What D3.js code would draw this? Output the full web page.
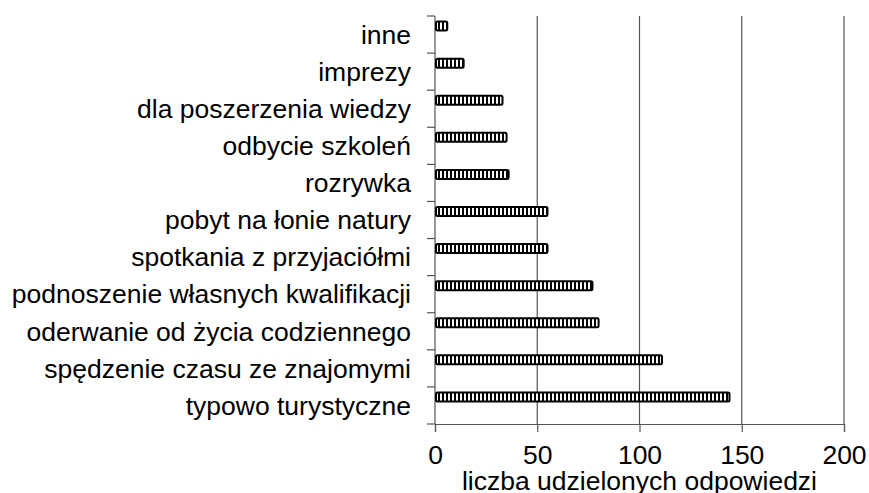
<!DOCTYPE html>
<html>
<head>
<meta charset="utf-8">
<script src="https://cdn.jsdelivr.net/npm/d3@7"></script>
<style>
body { margin: 0; background: #fff; }
text { font-family: "Liberation Sans", Arial, sans-serif; fill: #000; }
</style>
</head>
<body>
<div id="chart"></div>
<script>
// categories from top to bottom
var categories = ["inne", "imprezy", "dla poszerzenia wiedzy", "odbycie szkoleń", "rozrywka",
    "pobyt na łonie natury", "spotkania z przyjaciółmi", "podnoszenie własnych kwalifikacji",
    "oderwanie od życia codziennego", "spędzenie czasu ze znajomymi", "typowo turystyczne"];
var values = [6, 14, 33, 35, 36, 55, 55, 77, 80, 111, 144];
var xTicks = [0, 50, 100, 150, 200];
var xTitle = "liczba udzielonych odpowiedzi";

var margin = {top: 16, right: 25, bottom: 69, left: 435};
var width = 869 - margin.left - margin.right;
var height = 493 - margin.top - margin.bottom;
var fs = "26.5px";

var svg = d3.select("#chart").append("svg")
    .attr("width", 869)
    .attr("height", 493);

var defs = svg.append("defs");
var pat = defs.append("pattern")
    .attr("id", "stripes")
    .attr("patternUnits", "userSpaceOnUse")
    .attr("width", 4)
    .attr("height", 10);
pat.append("rect").attr("width", 4).attr("height", 10).attr("fill", "#000");
pat.append("rect").attr("x", 1).attr("width", 2).attr("height", 10).attr("fill", "#fff");

var g = svg.append("g")
    .attr("transform", "translate(" + margin.left + "," + margin.top + ")");

var x = d3.scaleLinear().domain([0, 200]).range([0, width]);
var y = d3.scaleBand().domain(categories).range([0, height]);

// gridlines
g.selectAll(".grid")
    .data(xTicks.slice(1))
    .enter().append("line")
    .attr("class", "grid")
    .attr("x1", function(d) { return x(d); })
    .attr("x2", function(d) { return x(d); })
    .attr("y1", 0)
    .attr("y2", height)
    .attr("stroke", "#555")
    .attr("stroke-width", 1.2);

// x axis
var xAxis = d3.axisBottom(x).tickValues(xTicks).tickSize(8).tickPadding(13);
var xg = g.append("g")
    .attr("transform", "translate(0," + height + ")")
    .call(xAxis);
xg.select(".domain").attr("stroke", "#555").attr("stroke-width", 1.2);
xg.selectAll(".tick line").attr("stroke", "#555").attr("stroke-width", 1.2);
xg.selectAll("text").style("font-size", fs).attr("fill", "#000");

// y axis: ticks on category boundaries
var yg = g.append("g");
yg.append("line")
    .attr("x1", 0).attr("x2", 0).attr("y1", 0).attr("y2", height)
    .attr("stroke", "#555").attr("stroke-width", 1.2);
var bounds = d3.range(categories.length + 1);
yg.selectAll(".ytick")
    .data(bounds)
    .enter().append("line")
    .attr("x1", -8).attr("x2", 0)
    .attr("y1", function(i) { return i * y.step(); })
    .attr("y2", function(i) { return i * y.step(); })
    .attr("stroke", "#555").attr("stroke-width", 1.2);

yg.selectAll(".ylabel")
    .data(categories)
    .enter().append("text")
    .attr("x", -24)
    .attr("y", function(d) { return y(d) + y.bandwidth() / 2; })
    .attr("dy", "0.35em")
    .attr("text-anchor", "end")
    .style("font-size", fs)
    .text(function(d) { return d; });

// bars
var barH = 9;
g.selectAll(".bar")
    .data(values)
    .enter().append("rect")
    .attr("class", "bar")
    .attr("x", 1)
    .attr("y", function(d, i) { return y(categories[i]) + y.bandwidth() / 2 - 13; })
    .attr("width", function(d) { return x(d) - 1; })
    .attr("height", barH)
    .attr("rx", 1.5)
    .attr("fill", "url(#stripes)")
    .attr("stroke", "#000")
    .attr("stroke-width", 2);

// axis title
g.append("text")
    .attr("x", width / 2)
    .attr("y", height + 66)
    .attr("text-anchor", "middle")
    .style("font-size", fs)
    .text(xTitle);
</script>
</body>
</html>
